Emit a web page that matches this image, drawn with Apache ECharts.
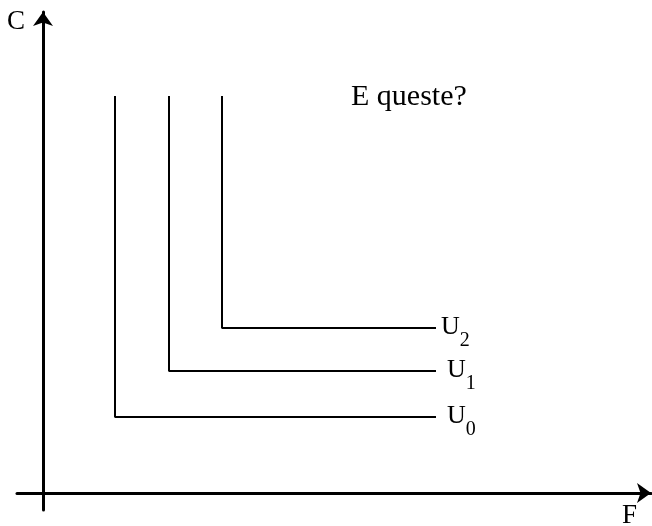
<!DOCTYPE html>
<html>
<head>
<meta charset="utf-8">
<script src="https://cdn.jsdelivr.net/npm/echarts@6/dist/echarts.min.js"></script>
<style>
  html, body { margin: 0; padding: 0; background: #fff; }
  #chart { width: 652px; height: 526px; }
</style>
</head>
<body>
<div id="chart"></div>
<script>
// indifference curves (perfect complements), F on x, C on y
const curveNames = ["U0", "U1", "U2"];
const cornerF = [7.2, 12.6, 17.9];
const cornerC = [7.6, 12.2, 16.5];
const topC = 39.7;
const endF = 39.3;

const font = "'Liberation Serif', 'DejaVu Serif', serif";
const labelGap = [11, 11, 5];

const series = curveNames.map(function (name, i) {
  return {
    name: name,
    type: "line",
    symbol: "none",
    silent: true,
    lineStyle: { color: "#000", width: 2 },
    data: [
      [cornerF[i], topC],
      [cornerF[i], cornerC[i]],
      [endF, cornerC[i]]
    ],
    endLabel: {
      show: true,
      distance: labelGap[i],
      formatter: "{u|U}{s|" + i + "}",
      rich: {
        u: { fontFamily: font, fontSize: 26, color: "#000", padding: [0, 0, 2, 0] },
        s: { fontFamily: font, fontSize: 20, color: "#000", padding: [26, 0, 0, 0] }
      }
    }
  };
});

let myChart = echarts.init(document.getElementById("chart"));
myChart.setOption({
  animation: false,
  grid: { left: 17, right: 1, top: 12, bottom: 16 },
  xAxis: {
    type: "value",
    min: -2.6,
    max: 60.8,
    splitLine: { show: false },
    axisTick: { show: false },
    axisLabel: { show: false },
    axisLine: {
      onZero: true,
      symbol: ["none", "arrow"],
      symbolSize: [15, 14],
      lineStyle: { color: "#000", width: 3 }
    }
  },
  yAxis: {
    type: "value",
    min: -1.7,
    max: 48.1,
    splitLine: { show: false },
    axisTick: { show: false },
    axisLabel: { show: false },
    axisLine: {
      onZero: true,
      symbol: ["none", "arrow"],
      symbolSize: [15, 14],
      lineStyle: { color: "#000", width: 3 }
    }
  },
  graphic: [
    { type: "text", left: 7, top: 8, style: { text: "C", font: "27px " + font, fill: "#000" } },
    { type: "text", left: 622, top: 502, style: { text: "F", font: "27px " + font, fill: "#000" } },
    { type: "text", left: 351, top: 82, style: { text: "E queste?", font: "30px " + font, fill: "#000" } }
  ],
  series: series
});
</script>
</body>
</html>
